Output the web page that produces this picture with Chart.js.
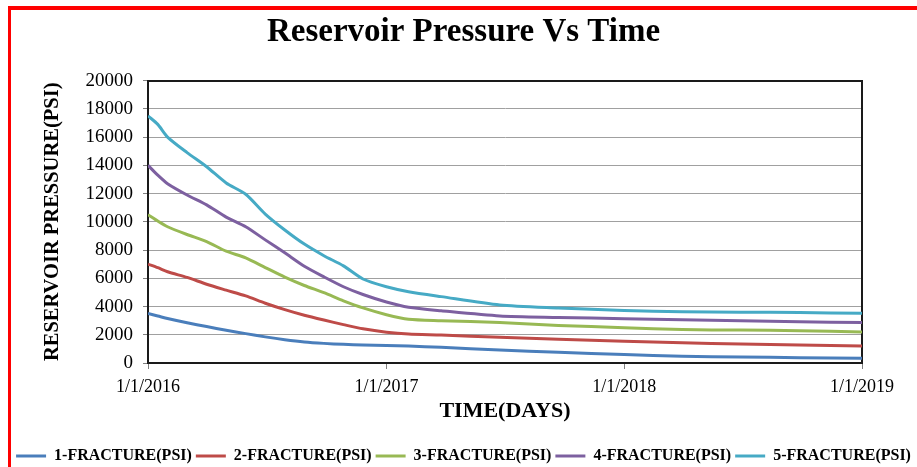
<!DOCTYPE html>
<html><head><meta charset="utf-8">
<script src="https://cdn.jsdelivr.net/npm/chart.js@4.4.1/dist/chart.umd.min.js"></script>
<style>
html,body{margin:0;padding:0;background:#fff;overflow:hidden;}
#wrap{position:relative;width:917px;height:467px;overflow:hidden;background:#fff;}
#frame{position:absolute;left:8px;top:6px;width:940px;height:500px;border-left:3px solid #ff0000;border-top:4px solid #ff0000;box-sizing:border-box;pointer-events:none;}
canvas{position:absolute;left:0;top:0;}
</style></head><body>
<div id="wrap"><canvas id="c" width="917" height="474"></canvas><div id="frame"></div></div>
<script>
// Days since 1/1/2016
const days = [0,15,30,60,90,120,150,180,210,240,270,300,330,366,400,450,540,630,731,820,910,1000,1096];
const fracture1 = [3500,3330,3150,2850,2580,2320,2080,1850,1650,1490,1390,1320,1280,1240,1200,1110,920,760,600,480,420,380,330];
const fracture2 = [7000,6750,6460,6060,5580,5160,4750,4230,3780,3380,3040,2720,2420,2180,2050,1980,1820,1680,1540,1430,1350,1280,1210];
const fracture3 = [10500,10050,9650,9100,8600,7920,7450,6760,6080,5490,4980,4400,3900,3420,3100,3000,2860,2660,2500,2370,2330,2290,2200];
const fracture4 = [14000,13300,12700,11900,11200,10330,9650,8720,7800,6850,6100,5400,4850,4320,3950,3700,3330,3230,3140,3070,3000,2930,2860];
const fracture5 = [17500,16900,16000,14900,13900,12750,11950,10550,9420,8420,7600,6880,5950,5400,5050,4700,4110,3900,3720,3630,3600,3570,3520];
const seriesNames = ['1-FRACTURE(PSI)','2-FRACTURE(PSI)','3-FRACTURE(PSI)','4-FRACTURE(PSI)','5-FRACTURE(PSI)'];
const seriesColors = ['#4A7EBB','#BE4B48','#98B954','#7D60A0','#46AAC5'];
const tickDays = [0,366,731,1096];
const tickLabels = ['1/1/2016','1/1/2017','1/1/2018','1/1/2019'];

const FONT = 'Liberation Serif, Times New Roman, serif';
Chart.defaults.font.family = FONT;
Chart.defaults.color = '#000';

const allSeries = [fracture1,fracture2,fracture3,fracture4,fracture5];
const datasets = allSeries.map((vals,i)=>({
  label: seriesNames[i],
  data: vals.map((v,j)=>({x:days[j], y:v})),
  borderColor: seriesColors[i],
  backgroundColor: seriesColors[i],
  borderWidth: 3,
  pointRadius: 0,
  tension: 0.25,
  fill: false,
  xAxisID: 'x', yAxisID: 'y'
}));

new Chart(document.getElementById('c'), {
  type: 'line',
  data: { datasets },
  options: {
    responsive: false,
    animation: false,
    layout: { padding: { left: 10, top: 12, right: 0, bottom: 0 } },
    plugins: {
      title: {
        display: true,
        text: 'Reservoir Pressure Vs Time',
        font: { family: FONT, size: 33, weight: 'bold' },
        color: '#000',
        padding: { top: 1, bottom: 28 }
      },
      legend: {
        position: 'bottom',
        labels: {
          boxWidth: 30, boxHeight: 3, padding: 4,
          font: { family: FONT, size: 16, weight: 'bold' },
          color: '#000',
          generateLabels(chart) {
            const items = Chart.defaults.plugins.legend.labels.generateLabels(chart);
            items.forEach(it => { it.lineWidth = 0; });
            return items;
          }
        }
      },
      tooltip: { enabled: false }
    },
    scales: {
      x: {
        type: 'linear', position: 'bottom', min: 0, max: 1096,
        afterBuildTicks(scale) { scale.ticks = tickDays.map(v => ({ value: v })); },
        afterFit(scale) { scale.height = 81; },
        ticks: {
          font: { family: FONT, size: 18 }, color: '#000', padding: 7, maxRotation: 0,
          callback(value) { const k = tickDays.indexOf(value); return k >= 0 ? tickLabels[k] : ''; }
        },
        grid: { drawOnChartArea: false, drawTicks: true, tickLength: 6, color: '#808080' },
        border: { display: true, color: '#1a1a1a', width: 2 },
        title: {
          display: true, text: 'TIME(DAYS)',
          font: { family: FONT, size: 22, weight: 'bold' }, color: '#000',
          padding: { top: 0, bottom: 19 }
        }
      },
      x2: {
        type: 'linear', position: 'top', display: true,
        afterFit(scale) { scale.height = 0; },
        ticks: { display: false },
        grid: { display: false, drawTicks: false },
        border: { display: true, color: '#1a1a1a', width: 2 }
      },
      y: {
        type: 'linear', position: 'left', min: 0, max: 20000,
        afterFit(scale) { scale.width = 138; },
        ticks: { stepSize: 2000, font: { family: FONT, size: 19 }, color: '#000', padding: 10,
                 callback(value) { return String(value); } },
        grid: { color: '#A0A0A0', lineWidth: 1, tickLength: 5, tickColor: '#808080' },
        border: { display: true, color: '#1a1a1a', width: 2 },
        title: {
          display: true, text: 'RESERVOIR PRESSURE(PSI)',
          font: { family: FONT, size: 20.5, weight: 'bold' }, color: '#000',
          padding: { top: 30, bottom: 0 }
        }
      },
      y2: {
        type: 'linear', position: 'right', display: true,
        afterFit(scale) { scale.width = 55; },
        ticks: { display: false },
        grid: { display: false, drawTicks: false },
        border: { display: true, color: '#1a1a1a', width: 2 }
      }
    }
  }
});
</script>
</body></html>
